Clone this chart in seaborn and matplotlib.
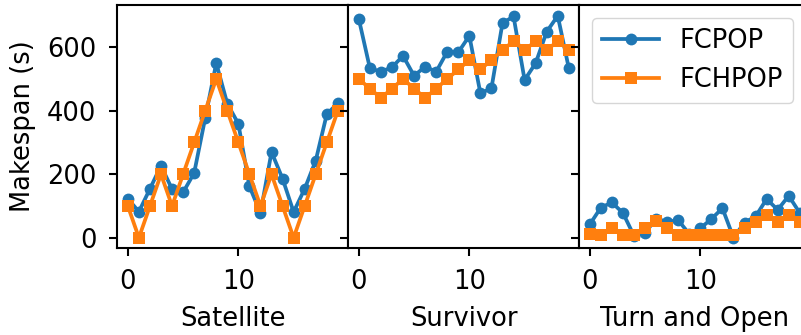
import numpy as np
import pandas as pd
import matplotlib.pyplot as plt
import seaborn as sns

# ── Data ────────────────────────────────────────
tasks = ["Satellite", "Survivor", "Turn and Open"]
runs = list(range(20))

satellite_fcpop = [123, 82, 154, 227, 153, 143, 204, 377, 550, 422,
                   359, 162, 78, 270, 186, 81, 154, 243, 389, 424]
satellite_fchpop = [100, 0, 100, 200, 100, 200, 300, 400, 500, 400,
                    300, 200, 100, 200, 100, 0, 100, 200, 300, 400]

survivor_fcpop = [689, 534, 523, 537, 573, 510, 539, 523, 586, 584,
                  636, 455, 471, 676, 697, 497, 550, 649, 699, 534]
survivor_fchpop = [500, 470, 440, 470, 500, 470, 440, 470, 500, 530,
                   560, 530, 560, 590, 620, 590, 620, 590, 620, 590]

turn_fcpop = [42, 95, 111, 78, 6, 16, 59, 50, 55, 12,
              30, 59, 93, 0, 48, 67, 122, 88, 132, 78]
turn_fchpop = [12, 10, 30, 10, 10, 30, 52, 30, 10, 10,
               10, 10, 10, 10, 30, 50, 72, 50, 72, 50]

fcpop = [satellite_fcpop, survivor_fcpop, turn_fcpop]
fchpop = [satellite_fchpop, survivor_fchpop, turn_fchpop]

plt.rcParams['font.size'] = 18.5
plt.rcParams['font.family'] = ['DejaVu Sans']

fig, axes = plt.subplots(1, 3, sharey=True, figsize=(8.01, 3.35), dpi=100)
fig.subplots_adjust(left=0.1465, right=1.0116, bottom=0.26, top=0.985, wspace=0)

for i, ax in enumerate(axes):
    df = pd.DataFrame({"run": runs, "FCPOP": fcpop[i], "FCHPOP": fchpop[i]})
    sns.lineplot(data=df, x="run", y="FCPOP", ax=ax, color="#1f77b4",
                 marker="o", markersize=8.5, markeredgewidth=0, linewidth=2.7,
                 label="FCPOP")
    sns.lineplot(data=df, x="run", y="FCHPOP", ax=ax, color="#ff7f0e",
                 marker="s", markersize=8, markeredgewidth=0, linewidth=2.7,
                 label="FCHPOP")
    ax.set_xlabel(tasks[i], labelpad=8)
    ax.set_ylabel("")
    ax.set_xticks([0, 10])
    ax.set_xlim(-0.95, 19.95)
    if i < 2:
        ax.get_legend().remove()
    for s in ax.spines.values():
        s.set_linewidth(1.5)
    ax.tick_params(width=1.5, length=6, pad=9)

axes[0].set_ylabel("Makespan (s)", labelpad=8)
axes[0].set_yticks([0, 200, 400, 600])
axes[0].set_ylim(-32, 733)
axes[2].legend(loc="upper left", handlelength=2.2)

plt.savefig("out.png", dpi=100)
